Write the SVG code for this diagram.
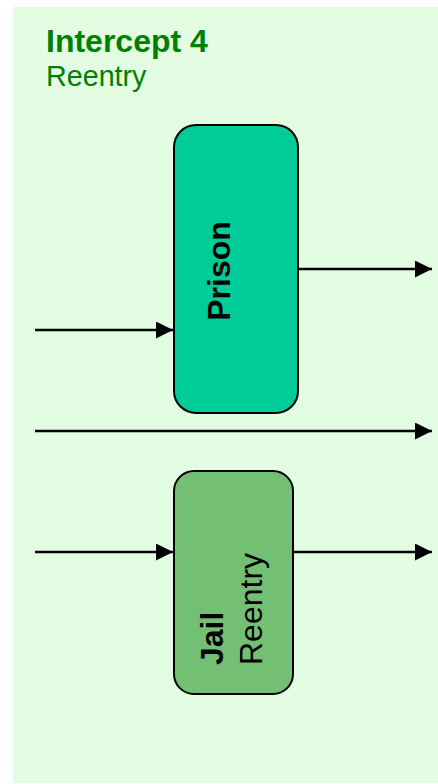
<svg xmlns="http://www.w3.org/2000/svg" width="438" height="784" viewBox="0 0 438 784">
<style>
.bg{fill:#E3FDE3}
.node{stroke:#000;stroke-width:2}
.h{font-family:"Liberation Sans",Arial,sans-serif;fill:#008000}
.t{font-family:"Liberation Sans",Arial,sans-serif;font-size:32px;fill:#000}
.c{stroke:#000;stroke-width:2.5;fill:none;marker-end:url(#ah)}
</style>
<defs>
<marker id="ah" markerUnits="userSpaceOnUse" markerWidth="17" markerHeight="17" refX="17" refY="8.5" orient="auto" viewBox="0 0 17 17">
<path d="M0,0 L17,8.5 L0,17 Z" fill="#000"/>
</marker>
</defs>
<rect class="bg" x="13" y="7" width="425" height="776"/>
<g id="title">
<text class="h" x="46" y="52" font-size="32" font-weight="bold">Intercept 4</text>
<text class="h" x="46" y="86" font-size="28.7">Reentry</text>
</g>
<g id="connectors">
<line class="c" x1="35" y1="330" x2="173" y2="330"/>
<line class="c" x1="298" y1="269" x2="432" y2="269"/>
<line class="c" x1="35" y1="431" x2="432" y2="431"/>
<line class="c" x1="35" y1="552" x2="173" y2="552"/>
<line class="c" x1="293" y1="552" x2="432" y2="552"/>
</g>
<g id="prison">
<rect class="node" x="174" y="125" width="124" height="288" rx="22" fill="#00CC99"/>
<text class="t" font-weight="bold" text-anchor="middle" transform="translate(230,271) rotate(-90)">Prison</text>
</g>
<g id="jail">
<rect class="node" x="174" y="471" width="119" height="223" rx="20" fill="#73BF73"/>
<text class="t" font-weight="bold" transform="translate(223,665) rotate(-90)">Jail</text>
<text class="t" transform="translate(262,665) rotate(-90)">Reentry</text>
</g>
</svg>
